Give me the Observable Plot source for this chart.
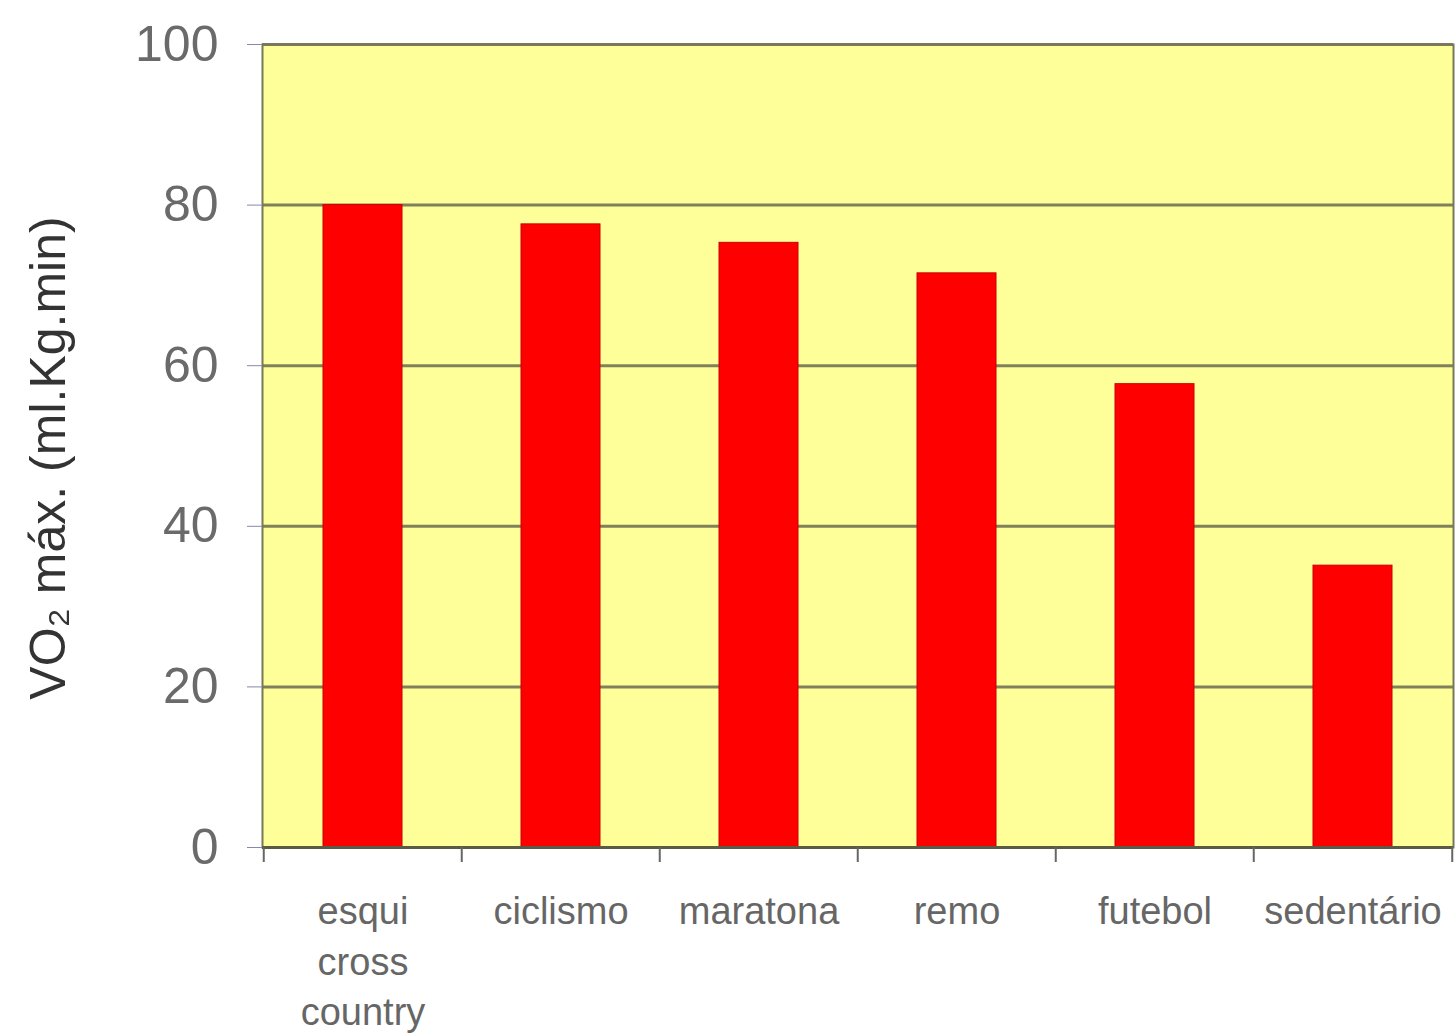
<!DOCTYPE html>
<html><head><meta charset="utf-8">
<script src="https://cdn.jsdelivr.net/npm/d3@7"></script>
<script src="https://cdn.jsdelivr.net/npm/@observablehq/plot@0.6"></script>
<style>body{margin:0;background:#fff} svg{display:block}</style>
</head><body><div id="chart"></div>
<script>
const categories = ["esqui\ncross\ncountry", "ciclismo", "maratona", "remo", "futebol", "sedentário"];
const values = [80, 77.6, 75.3, 71.5, 57.7, 35.1];
const yTicks = [0, 20, 40, 60, 80, 100];
const yLabel = "VO₂ máx. (ml.Kg.min)";

const data = categories.map((c, i) => ({cat: c, v: values[i]}));
const W = 1455, H = 1033, mL = 262, mR = 2, mT = 44, mB = 186;
const step = (W - mL - mR) / categories.length;
const lastCat = [categories[categories.length - 1]];

const chart = Plot.plot({
  width: W, height: H,
  marginLeft: mL, marginRight: mR, marginTop: mT, marginBottom: mB,
  style: {fontFamily: "'Liberation Sans', Arial, sans-serif", background: "#fff", overflow: "visible"},
  x: {domain: categories, paddingInner: 0.6, paddingOuter: 0.3, label: null},
  y: {domain: [0, 100], label: null},
  marks: [
    Plot.frame({fill: "#ffff99", stroke: null}),
    Plot.ruleY(yTicks, {stroke: "#80805a", strokeWidth: 3}),
    Plot.barY(data, {x: "cat", y: "v", fill: "#ff0000", stroke: "#c80000", strokeWidth: 1}),
    Plot.frame({stroke: "#77775a", strokeWidth: 2}),
    Plot.ruleY([0], {stroke: "#5a5a45", strokeWidth: 3}),
    Plot.ruleX(categories, {x: d => d, dx: -step / 2, y1: 0, y2: 0, insetBottom: -15, stroke: "#666", strokeWidth: 2}),
    Plot.ruleX(lastCat, {x: d => d, dx: step / 2, y1: 0, y2: 0, insetBottom: -15, stroke: "#666", strokeWidth: 2}),
    Plot.axisY(yTicks, {tickSize: 15, tickPadding: 29, fontSize: 50, color: "#6a6a6a", stroke: "#8888a8", tickFormat: d => String(d)}),
    Plot.axisX({tickSize: 0, tickPadding: 40, fontSize: 38, lineHeight: 1.34, color: "#666"}),
    Plot.text([yLabel], {frameAnchor: "left", textAnchor: "middle", dx: -214, dy: 12, rotate: -90, fontSize: 50, fill: "#333"})
  ]
});
document.getElementById("chart").appendChild(chart);
</script>
</body></html>
